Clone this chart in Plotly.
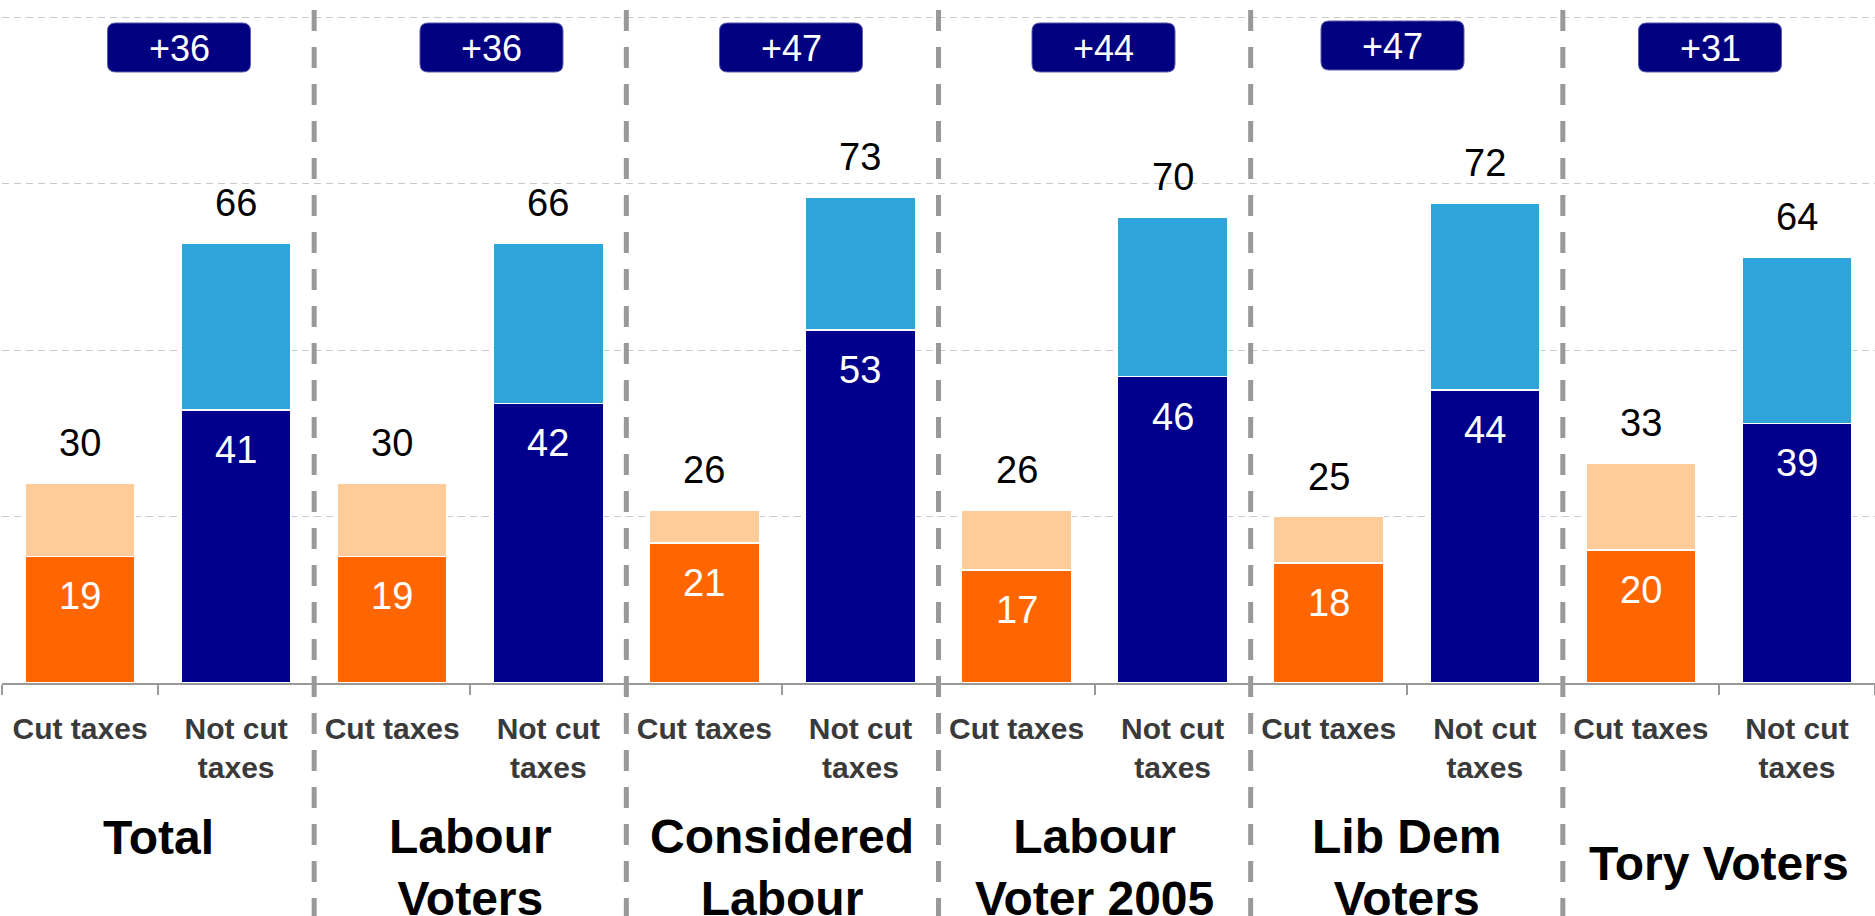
import plotly.graph_objects as go

# ---------------- data ----------------
groups = ["Total", "Labour<br>Voters", "Considered<br>Labour",
          "Labour<br>Voter 2005", "Lib Dem<br>Voters", "Tory Voters"]
bar_labels = ["Cut taxes", "Not cut<br>taxes"]
cut_strong = [19, 19, 21, 17, 18, 20]
cut_total = [30, 30, 26, 26, 25, 33]
notcut_strong = [41, 42, 53, 46, 44, 39]
notcut_total = [66, 66, 73, 70, 72, 64]
net_lead = ["+36", "+36", "+47", "+44", "+47", "+31"]
grid_vals = [25, 50, 75, 100]

# ---------------- layout geometry (pixels) ----------------
W, H = 1875, 916
ML, MR, MT, MB = 2, 0, 10, 233
PW = W - ML - MR
PH = H - MT - MB
PX_PER_UNIT = 6.66
YMAX = PH / PX_PER_UNIT  # slightly above 100 so the 100 gridline is drawn

FONT = "Liberation Sans, Arial, sans-serif"
ORANGE, PEACH = "#FF6600", "#FFCC99"
NAVY, SKY = "#00008C", "#2DA5DB"
BOXNAVY = "#000080"


def px_x(p):
    return (p - ML) / PW


def px_y(p):
    return (H - MB - p) / PH


n = len(groups)
cut_x = [2 * i for i in range(n)]
not_x = [2 * i + 1 for i in range(n)]
cut_soft = [t - s for t, s in zip(cut_total, cut_strong)]
notcut_soft = [t - s for t, s in zip(notcut_total, notcut_strong)]

line = dict(color="white", width=1.5)
fig = go.Figure()
fig.add_bar(x=cut_x, y=cut_strong, marker=dict(color=ORANGE, line=line), hoverinfo="skip")
fig.add_bar(x=cut_x, y=cut_soft, marker=dict(color=PEACH, line=line), hoverinfo="skip")
fig.add_bar(x=not_x, y=notcut_strong, marker=dict(color=NAVY, line=line), hoverinfo="skip")
fig.add_bar(x=not_x, y=notcut_soft, marker=dict(color=SKY, line=line), hoverinfo="skip")

annotations = []
# value labels
for i in range(n):
    for xx, tot, strong in ((cut_x[i], cut_total[i], cut_strong[i]),
                            (not_x[i], notcut_total[i], notcut_strong[i])):
        annotations.append(dict(x=xx, y=tot, xref="x", yref="y", text=str(tot),
                                showarrow=False, yanchor="middle", yshift=40,
                                font=dict(family=FONT, size=38, color="black")))
        annotations.append(dict(x=xx, y=strong, xref="x", yref="y", text=str(strong),
                                showarrow=False, yanchor="middle", yshift=-40,
                                font=dict(family=FONT, size=38, color="white")))

# group labels
group_label_y_px = [837.5, 867, 867, 867, 867, 863.5]
for i, g in enumerate(groups):
    annotations.append(dict(x=(2 * i + 1) / (2 * n), y=px_y(group_label_y_px[i]),
                            xref="paper", yref="paper", text=g, showarrow=False,
                            xanchor="center", yanchor="middle",
                            font=dict(family=FONT, size=48, color="black", weight="bold")))

# net-lead boxes
box_cx_px = [179, 491.5, 791, 1103.5, 1392.5, 1710]
box_top_px = [23, 23, 23, 23, 21, 23]
BOX_W, BOX_H, R = 143, 49, 8
shapes = []
for i in range(n):
    x0 = box_cx_px[i] - BOX_W / 2
    x1 = box_cx_px[i] + BOX_W / 2
    y0 = box_top_px[i]
    y1 = y0 + BOX_H
    pts = [
        ("M", x0 + R, y0), ("L", x1 - R, y0), ("Q", x1, y0, x1, y0 + R),
        ("L", x1, y1 - R), ("Q", x1, y1, x1 - R, y1), ("L", x0 + R, y1),
        ("Q", x0, y1, x0, y1 - R), ("L", x0, y0 + R), ("Q", x0, y0, x0 + R, y0),
    ]
    path = ""
    for p in pts:
        cmd = p[0]
        coords = p[1:]
        s = []
        for k in range(0, len(coords), 2):
            s.append(f"{px_x(coords[k]):.6f},{px_y(coords[k + 1]):.6f}")
        path += cmd + " " + " ".join(s) + " "
    path += "Z"
    shapes.append(dict(type="path", xref="paper", yref="paper", path=path,
                       fillcolor=BOXNAVY, line=dict(color="#5a5aa8", width=1), layer="above"))
    annotations.append(dict(x=px_x(box_cx_px[i]), y=px_y((y0 + y1) / 2 + 1),
                            xref="paper", yref="paper", text=net_lead[i], showarrow=False,
                            xanchor="center", yanchor="middle",
                            font=dict(family=FONT, size=36, color="white")))

# group dividers
for b in range(1, n):
    xp = (2 * b) / (2 * n)
    shapes.append(dict(type="line", xref="paper", yref="paper",
                       x0=xp, x1=xp, y0=px_y(10), y1=px_y(925),
                       line=dict(color="#999999", width=5, dash="21px,16px"),
                       layer="above"))

fig.update_layout(
    width=W, height=H,
    margin=dict(l=ML, r=MR, t=MT, b=MB, pad=0),
    barmode="stack", bargap=0.295,
    plot_bgcolor="white", paper_bgcolor="white",
    showlegend=False,
    annotations=annotations, shapes=shapes,
    xaxis=dict(
        range=[-0.5, 2 * n - 0.5], tickmode="array",
        tickvals=list(range(2 * n)), ticktext=bar_labels * n,
        ticks="", showgrid=False, zeroline=False,
        showline=True, linecolor="#999999", linewidth=2,
        tickfont=dict(family=FONT, size=30, color="#3a3a3a", weight="bold"),
        ticklabelstandoff=18,
        minor=dict(tickmode="array", tickvals=[k - 0.5 for k in range(2 * n + 1)],
                   ticks="outside", ticklen=10, tickcolor="#999999", tickwidth=2,
                   showgrid=False),
        automargin=False, fixedrange=True,
    ),
    yaxis=dict(
        range=[0, YMAX], tickmode="array", tickvals=grid_vals,
        showgrid=True, gridcolor="#c8c8c8", gridwidth=1, griddash="7px,5px",
        showticklabels=False, zeroline=False, showline=False, ticks="",
        automargin=False, fixedrange=True,
    ),
)

fig.write_html(
    "out.html",
    config={"displayModeBar": False},
    post_script="document.body.style.margin='0';document.body.style.overflow='hidden';",
)
